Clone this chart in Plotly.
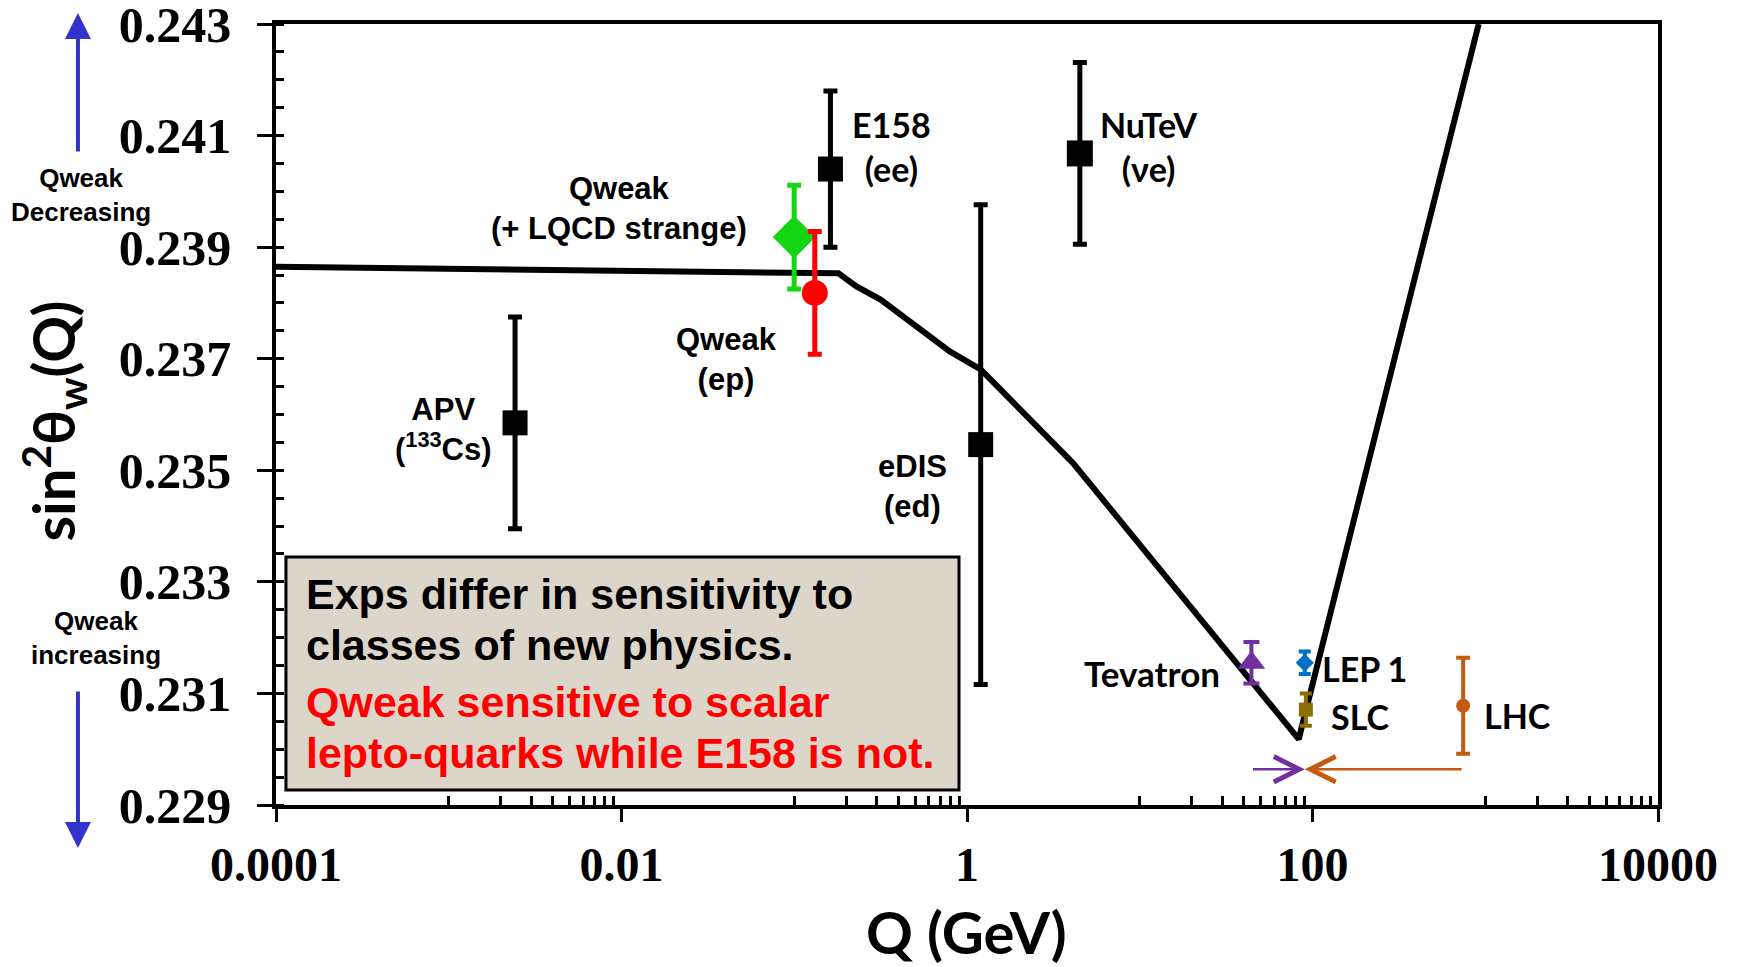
import numpy as np
import plotly.graph_objects as go

# ---------------- data ----------------
curve_q = [1e-4, 0.1803, 0.228, 0.316, 0.795, 1.2, 4.11, 83.2, 916.0]
curve_s = [0.23865, 0.23853, 0.23830, 0.23806, 0.23713, 0.23681, 0.23513, 0.23018, 0.24300]

exp_names = ["APV", "Qweak LQCD", "Qweak ep", "E158", "eDIS", "NuTeV",
             "Tevatron", "LEP 1", "SLC", "LHC"]
exp_q = [0.00242, 0.0999, 0.1315, 0.162, 1.2, 4.5, 44.3, 90.2, 91.5, 745.0]
exp_s = [0.23585, 0.23918, 0.23818, 0.2404, 0.23546, 0.24068,
         0.23155, 0.23155, 0.23071, 0.23078]
exp_err = [0.0019, 0.00093, 0.0011, 0.0014, 0.0043, 0.00163,
           0.00037, 0.0002, 0.00029, 0.00086]

x_tickvals = [1e-4, 1e-2, 1, 100, 1e4]
x_ticktext = ["0.0001", "0.01", "1", "100", "10000"]
y_tickvals = [0.229, 0.231, 0.233, 0.235, 0.237, 0.239, 0.241, 0.243]
y_ticktext = ["0.229", "0.231", "0.233", "0.235", "0.237", "0.239", "0.241", "0.243"]

# ---------------- styles ----------------
styles = {
    "APV":        dict(color="black",   symbol="square",       size=25, cap=7, th=5),
    "Qweak LQCD": dict(color="#14D414", symbol="diamond",      size=33, cap=7, th=5),
    "Qweak ep":   dict(color="#FF0000", symbol="circle",       size=26, cap=7, th=5),
    "E158":       dict(color="black",   symbol="square",       size=25, cap=7, th=5),
    "eDIS":       dict(color="black",   symbol="square",       size=25, cap=7, th=5),
    "NuTeV":      dict(color="black",   symbol="square",       size=26, cap=7, th=5),
    "Tevatron":   dict(color="#7030A0", symbol="triangle-up",  size=24, cap=8, th=4),
    "LEP 1":      dict(color="#0070C0", symbol="diamond",      size=14, cap=6, th=4),
    "SLC":        dict(color="#8C6D00", symbol="square",       size=14, cap=6, th=4),
    "LHC":        dict(color="#C55A11", symbol="circle",       size=14, cap=7, th=4),
}

fig = go.Figure()

fig.add_trace(go.Scatter(x=curve_q, y=curve_s, mode="lines",
                         line=dict(color="black", width=6), hoverinfo="skip"))

for n, q, s, e in zip(exp_names, exp_q, exp_s, exp_err):
    st = styles[n]
    fig.add_trace(go.Scatter(
        x=[q], y=[s], mode="markers",
        marker=dict(color=st["color"], symbol=st["symbol"], size=st["size"],
                    line=dict(width=0)),
        error_y=dict(type="data", array=[e], visible=True, color=st["color"],
                     thickness=st["th"], width=st["cap"]),
        name=n))

# dummy trace for overlay axis (inside major ticks on y)
fig.add_trace(go.Scatter(x=[], y=[], yaxis="y2", showlegend=False))

SANS = "Liberation Sans, Arial, sans-serif"
CAL = "Lato, Carlito, Calibri, sans-serif"
SERIF = "Liberation Serif, Times New Roman, serif"

x_minor = [m * 10.0 ** k for k in (-3, -1, 1, 3) for m in range(1, 10)]

fig.update_layout(
    width=1737, height=967,
    margin=dict(l=276, r=79, t=24, b=162),
    paper_bgcolor="white", plot_bgcolor="white",
    showlegend=False,
    xaxis=dict(
        type="log", range=[-4, 4], automargin=False,
        tickmode="array", tickvals=x_tickvals, ticktext=x_ticktext,
        ticks="outside", ticklen=13, tickwidth=3, tickcolor="black",
        tickfont=dict(family=SERIF, size=48, color="black", weight="bold"),
        ticklabelstandoff=2, ticklabeloverflow="allow",
        showgrid=False, zeroline=False,
        showline=True, linecolor="black", linewidth=3.5, mirror=True,
        minor=dict(tickmode="array", tickvals=x_minor, ticks="inside",
                   ticklen=9, tickwidth=2.5, tickcolor="black", showgrid=False),
    ),
    yaxis=dict(
        range=[0.229, 0.243], automargin=False,
        tickmode="array", tickvals=y_tickvals, ticktext=y_ticktext,
        ticks="outside", ticklen=15, tickwidth=3, tickcolor="black",
        tickfont=dict(family=SERIF, size=50, color="black", weight="bold"),
        ticklabelstandoff=16, ticklabeloverflow="allow",
        showgrid=False, zeroline=False,
        showline=True, linecolor="black", linewidth=3.5, mirror=True,
        minor=dict(dtick=0.0005, tick0=0.229, ticks="inside", ticklen=8,
                   tickwidth=2.5, tickcolor="black", showgrid=False),
    ),
    yaxis2=dict(
        overlaying="y", side="left", range=[0.229, 0.243], automargin=False,
        tickmode="array", tickvals=y_tickvals, showticklabels=False,
        ticks="inside", ticklen=8, tickwidth=3, tickcolor="black",
        showgrid=False, zeroline=False, showline=False,
    ),
)

# text box
fig.add_shape(type="rect", xref="paper", yref="paper",
              x0=0.0072, x1=0.4942, y0=0.0192, y1=0.3175,
              fillcolor="#DCD5C9", line=dict(color="black", width=3), layer="below")

annotations = []
box_lines = [
    ("Exps differ in sensitivity to", "black", 0.2702),
    ("classes of new physics.", "black", 0.2049),
    ("Qweak sensitive to scalar", "#FF0000", 0.1319),
    ("lepto-quarks while E158 is not.", "#FF0000", 0.0666),
]
for txt, col, yy in box_lines:
    annotations.append(dict(text=txt, xref="paper", yref="paper", x=0.020, y=yy,
                            xanchor="left", yanchor="middle", showarrow=False,
                            font=dict(family=SANS, size=43, color=col, weight="bold")))

# point labels (x in log10 units)
labels = [
    ("E158<br>(ee)", -0.435, 0.24080, "center", CAL, 34),
    ("NuTeV<br>(νe)", 1.052, 0.24080, "center", CAL, 34),
    ("Qweak<br>(+ LQCD strange)", -2.015, 0.23969, "center", SANS, 31),
    ("Qweak<br>(ep)", -1.390, 0.23699, "center", SANS, 31),
    ("APV<br>(<sup>133</sup>Cs)", -3.034, 0.23573, "center", SANS, 31),
    ("eDIS<br>(ed)", -0.314, 0.23471, "center", SANS, 31),
    ("Tevatron", 1.474, 0.231358, "right", CAL, 35),
    ("LEP 1", 2.042, 0.23145, "left", CAL, 34),
    ("SLC", 2.094, 0.23059, "left", CAL, 34),
    ("LHC", 2.979, 0.23061, "left", CAL, 34),
]
for txt, lx, ly, xa, fam, fs in labels:
    annotations.append(dict(text=txt, xref="x", yref="y", x=lx, y=ly,
                            xanchor=xa, yanchor="middle", showarrow=False,
                            font=dict(family=fam, size=fs, color="black", weight="bold")))

# range arrows (Tevatron -> MZ, LHC -> MZ)
arrow_y = 0.22964
mz_log = np.log10(exp_q[7])
annotations.append(dict(x=mz_log, y=arrow_y, ax=np.log10(exp_q[6]), ay=arrow_y,
                        xref="x", yref="y", axref="x", ayref="y", text="",
                        showarrow=True, arrowhead=5, arrowsize=2.0, arrowwidth=2.5,
                        arrowcolor="#7030A0", standoff=0))
annotations.append(dict(x=mz_log, y=arrow_y, ax=np.log10(exp_q[9]), ay=arrow_y,
                        xref="x", yref="y", axref="x", ayref="y", text="",
                        showarrow=True, arrowhead=5, arrowsize=2.0, arrowwidth=2.5,
                        arrowcolor="#C55A11", standoff=0))

# side arrows and texts
annotations.append(dict(x=-0.1433, y=1.0141, xref="paper", yref="paper", ax=0, ay=140,
                        text="", showarrow=True, arrowhead=2, arrowsize=1.3,
                        arrowwidth=4, arrowcolor="#3333CC", standoff=0))
annotations.append(dict(x=-0.1433, y=-0.0551, xref="paper", yref="paper", ax=0, ay=-158,
                        text="", showarrow=True, arrowhead=2, arrowsize=1.3,
                        arrowwidth=4, arrowcolor="#3333CC", standoff=0))
annotations.append(dict(text="Qweak<br>Decreasing", x=-0.1411, y=0.781,
                        xref="paper", yref="paper", showarrow=False,
                        xanchor="center", yanchor="middle",
                        font=dict(family=SANS, size=26, color="black", weight="bold")))
annotations.append(dict(text="Qweak<br>increasing", x=-0.1302, y=0.2138,
                        xref="paper", yref="paper", showarrow=False,
                        xanchor="center", yanchor="middle",
                        font=dict(family=SANS, size=26, color="black", weight="bold")))

# axis titles
annotations.append(dict(text="sin<sup>2</sup>θ<sub>w</sub>(Q)", x=-0.161, y=0.4917,
                        xref="paper", yref="paper", showarrow=False, textangle=-90,
                        xanchor="center", yanchor="middle",
                        font=dict(family=CAL, size=58, color="black", weight="bold")))
annotations.append(dict(text="Q (GeV)", x=0.4993, y=-0.162,
                        xref="paper", yref="paper", showarrow=False,
                        xanchor="center", yanchor="middle",
                        font=dict(family=CAL, size=58, color="black", weight="bold")))

fig.update_layout(annotations=annotations)

fig.write_html("out.html", config={"displayModeBar": False},
               post_script="document.body.style.margin='0';document.body.style.overflow='hidden';")
